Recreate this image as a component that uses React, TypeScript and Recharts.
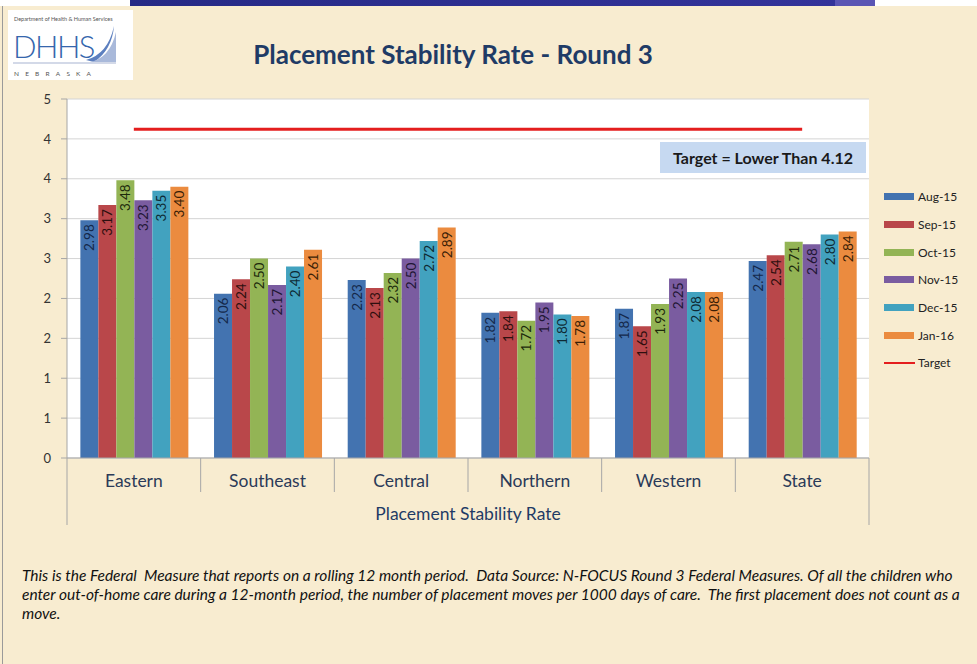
import React from "react";
import {
  ComposedChart,
  Bar,
  Line,
  XAxis,
  YAxis,
  CartesianGrid,
  LabelList,
} from "recharts";

// ─── Data ────────────────────────────────────────────────────────────────────
const regions = ["Eastern", "Southeast", "Central", "Northern", "Western", "State"];
const aug15 = [2.98, 2.06, 2.23, 1.82, 1.87, 2.47];
const sep15 = [3.17, 2.24, 2.13, 1.84, 1.65, 2.54];
const oct15 = [3.48, 2.5, 2.32, 1.72, 1.93, 2.71];
const nov15 = [3.23, 2.17, 2.5, 1.95, 2.25, 2.68];
const dec15 = [3.35, 2.4, 2.72, 1.8, 2.08, 2.8];
const jan16 = [3.4, 2.61, 2.89, 1.78, 2.08, 2.84];
const target = [4.12, 4.12, 4.12, 4.12, 4.12, 4.12];
const yTicks = [0, 0.5, 1, 1.5, 2, 2.5, 3, 3.5, 4, 4.5];

// ─── Palette ─────────────────────────────────────────────────────────────────
const series = [
  { key: "aug15", name: "Aug-15", values: aug15, color: "#4373b0", text: "#14284a" },
  { key: "sep15", name: "Sep-15", values: sep15, color: "#b9474a", text: "#2e0f0f" },
  { key: "oct15", name: "Oct-15", values: oct15, color: "#93b455", text: "#1d2a0c" },
  { key: "nov15", name: "Nov-15", values: nov15, color: "#7a5ca0", text: "#211634" },
  { key: "dec15", name: "Dec-15", values: dec15, color: "#42a2bf", text: "#0e2a34" },
  { key: "jan16", name: "Jan-16", values: jan16, color: "#eb8b3f", text: "#3a1e06" },
];
const C_TARGET = "#e41e1e";
const C_NAVY = "#1f3b66";
const BG = "#f8ecd0";
const FONT = "Lato, 'Open Sans', sans-serif";

const data = regions.map((r, i) => {
  const row: Record<string, string | number> = { region: r, target: target[i] };
  series.forEach((s) => (row[s.key] = s.values[i]));
  return row;
});

// ─── Layout ──────────────────────────────────────────────────────────────────
const PLOT_LEFT = 67;
const PLOT_RIGHT = 869;
const PLOT_BOTTOM = 458;
const BAND = (PLOT_RIGHT - PLOT_LEFT) / regions.length;

function CategoryTick(props: any) {
  const { x, payload, index } = props;
  const left = x - BAND / 2;
  const right = x + BAND / 2;
  const last = index === regions.length - 1;
  return (
    <g>
      <line x1={left} y1={PLOT_BOTTOM} x2={left} y2={index === 0 ? 525 : 492} stroke="#a6a6a6" />
      {last && <line x1={right} y1={PLOT_BOTTOM} x2={right} y2={525} stroke="#a6a6a6" />}
      <text x={x} y={487} textAnchor="middle" fill="#2b3a58" fontSize={17.5} fontFamily={FONT}>
        {payload.value}
      </text>
    </g>
  );
}

function BarValue(color: string) {
  return (props: any) => {
    const { x, y, width, value } = props;
    const cx = x + width / 2;
    const ty = y + 4;
    return (
      <text
        x={cx}
        y={ty}
        transform={`rotate(-90 ${cx} ${ty})`}
        textAnchor="end"
        dominantBaseline="central"
        fill={color}
        fontSize={13.5}
        fontFamily={FONT}
      >
        {Number(value).toFixed(2)}
      </text>
    );
  };
}

function LegendBox() {
  return (
    <div
      style={{
        position: "absolute",
        left: 884,
        top: 183,
        fontFamily: FONT,
        fontSize: 12,
        color: "#222",
      }}
    >
      {series.map((s) => (
        <div key={s.key} style={{ display: "flex", alignItems: "center", height: 27.7 }}>
          <div style={{ width: 30, height: 7, background: s.color, marginRight: 4 }} />
          <span>{s.name}</span>
        </div>
      ))}
      <div style={{ display: "flex", alignItems: "center", height: 27.7 }}>
        <div style={{ width: 31, height: 2.5, background: C_TARGET, marginRight: 3 }} />
        <span>Target</span>
      </div>
    </div>
  );
}

function Logo() {
  return (
    <svg width={125} height={70} style={{ position: "absolute", left: 8, top: 10 }}>
      <rect width={125} height={70} fill="#ffffff" />
      <text x={6} y={11} fontSize={5.5} fill="#555" fontFamily={FONT}>
        Department of Health &amp; Human Services
      </text>
      <text x={5} y={48} fontSize={31} fill="#3566ad" fontFamily={FONT} fontWeight={300} letterSpacing={-1.5}>
        DHHS
      </text>
      <path d="M78 50 Q100 44 106 16 Q104 40 86 52 Z" fill="#5c7fbf" />
      <path d="M82 52 Q102 48 108 22 L108 52 Z" fill="#a9b9da" />
      <line x1={5} y1={53} x2={108} y2={53} stroke="#c5cde0" strokeWidth={1.5} />
      <text x={6} y={66} fontSize={6.5} fill="#555" fontFamily={FONT} letterSpacing={6.2}>
        NEBRASKA
      </text>
    </svg>
  );
}

// ─── Component ───────────────────────────────────────────────────────────────
export default function App() {
  return (
    <div
      style={{
        position: "absolute",
        left: 0,
        top: 0,
        width: 977,
        height: 664,
        background: BG,
        overflow: "hidden",
        fontFamily: FONT,
      }}
    >
      {/* top banner */}
      <div style={{ position: "absolute", left: 0, top: 0, width: 977, height: 6, background: "#ffffff" }} />
      <div
        style={{
          position: "absolute",
          left: 130,
          top: 0,
          width: 705,
          height: 6,
          background: "linear-gradient(90deg, #262a86, #33339a)",
        }}
      />
      <div style={{ position: "absolute", left: 835, top: 0, width: 40, height: 6, background: "#5a55b4" }} />
      <div style={{ position: "absolute", left: 2, top: 6, width: 1, height: 658, background: "#9a9a9a" }} />

      <Logo />

      <div
        style={{
          position: "absolute",
          left: 0,
          top: 38,
          width: 906,
          textAlign: "center",
          fontSize: 26,
          fontWeight: 700,
          color: C_NAVY,
        }}
      >
        Placement Stability Rate - Round 3
      </div>

      <div style={{ position: "absolute", left: 0, top: 0 }}>
        <ComposedChart
          width={977}
          height={540}
          data={data}
          margin={{ top: 99, right: 108, bottom: 22, left: 37 }}
          barCategoryGap="10%"
          barGap={0}
        >
          <CartesianGrid vertical={false} stroke="#d4d4d4" fill="#ffffff" />
          <XAxis
            dataKey="region"
            height={60}
            axisLine={{ stroke: "#a6a6a6" }}
            tickLine={false}
            tick={<CategoryTick />}
            interval={0}
          />
          <YAxis
            width={30}
            domain={[0, 4.5]}
            ticks={yTicks}
            tickFormatter={(v: number) => String(Math.round(v))}
            tick={{ fill: "#333", fontSize: 13, fontFamily: FONT }}
            axisLine={{ stroke: "#a6a6a6" }}
            tickLine={{ stroke: "#a6a6a6" }}
            tickSize={6}
            tickMargin={10}
            allowDataOverflow
          />
          {series.map((s) => (
            <Bar key={s.key} dataKey={s.key} name={s.name} fill={s.color} isAnimationActive={false}>
              <LabelList dataKey={s.key} content={BarValue(s.text)} />
            </Bar>
          ))}
          <Line
            dataKey="target"
            name="Target"
            stroke={C_TARGET}
            strokeWidth={3}
            dot={false}
            activeDot={false}
            isAnimationActive={false}
          />
        </ComposedChart>
      </div>

      <LegendBox />

      {/* target callout */}
      <div
        style={{
          position: "absolute",
          left: 660,
          top: 142,
          width: 206,
          height: 31,
          background: "#c6d9f1",
          display: "flex",
          alignItems: "center",
          justifyContent: "center",
          fontSize: 16,
          fontWeight: 700,
          color: "#1a1a1a",
        }}
      >
        Target = Lower Than 4.12
      </div>

      {/* axis title */}
      <div
        style={{
          position: "absolute",
          left: PLOT_LEFT,
          top: 503,
          width: PLOT_RIGHT - PLOT_LEFT,
          textAlign: "center",
          fontSize: 17.5,
          color: C_NAVY,
        }}
      >
        Placement Stability Rate
      </div>

      {/* footnote */}
      <div
        style={{
          position: "absolute",
          left: 22,
          top: 566,
          fontSize: 15.5,
          fontStyle: "italic",
          color: "#111",
          lineHeight: "19px",
          whiteSpace: "nowrap",
        }}
      >
        <div>
          This is the Federal&nbsp; Measure that reports on a rolling 12 month period.&nbsp; Data Source: N-FOCUS Round 3
          Federal Measures. Of all the children who
        </div>
        <div>
          enter out-of-home care during a 12-month period, the number of placement moves per 1000 days of care.&nbsp; The
          first placement does not count as a
        </div>
        <div>move.</div>
      </div>
    </div>
  );
}
